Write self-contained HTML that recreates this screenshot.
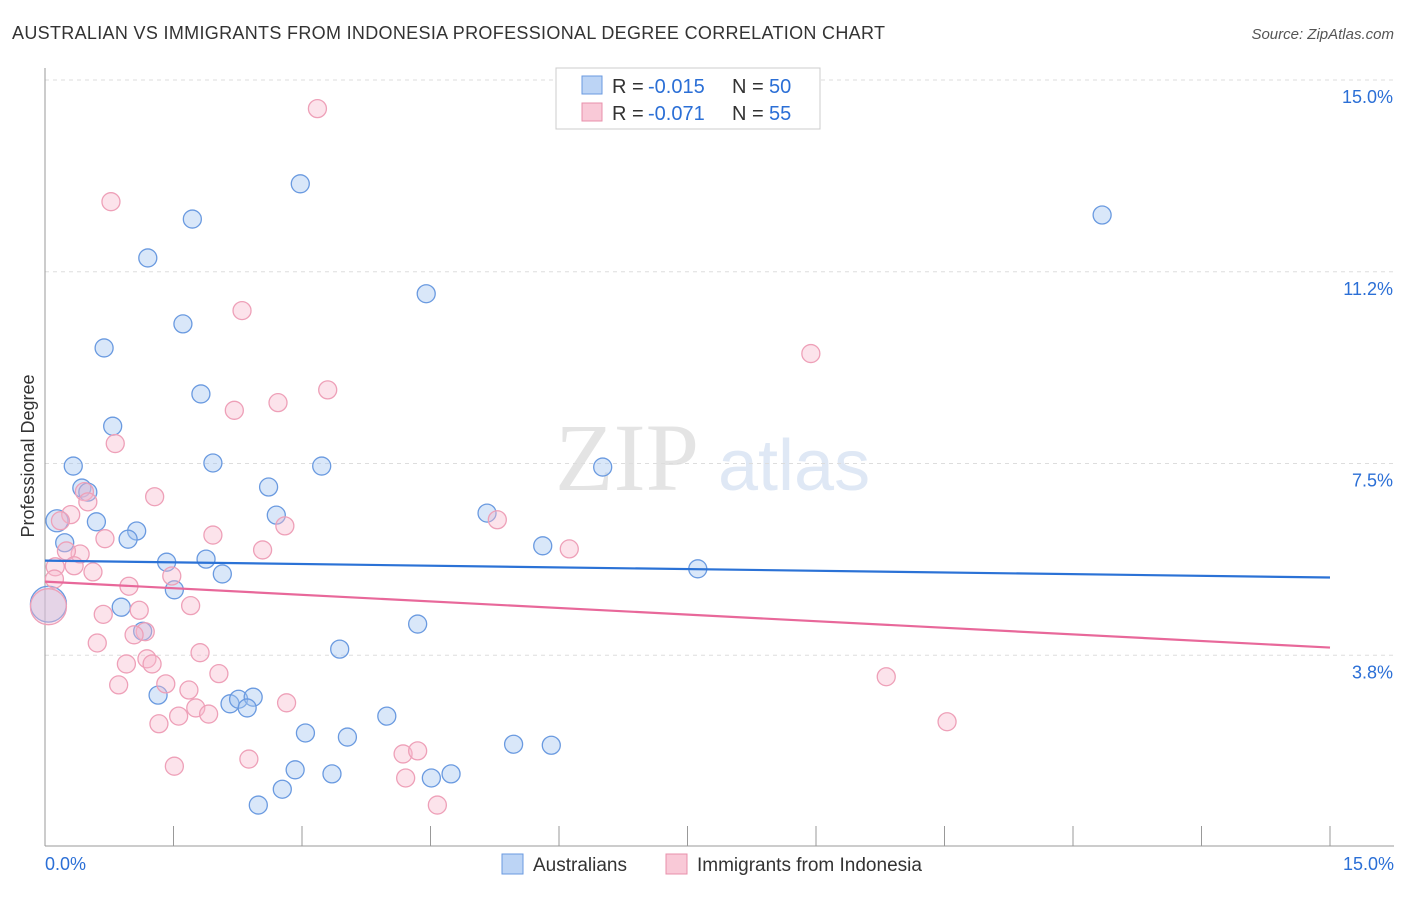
<!DOCTYPE html>
<html><head><meta charset="utf-8"><style>
body{margin:0;background:#fff;width:1406px;height:892px;overflow:hidden;font-family:"Liberation Sans",sans-serif}
</style></head><body>
<svg id="c" width="1406" height="892" xmlns="http://www.w3.org/2000/svg">
<text x="12" y="39" font-size="18" fill="#333" textLength="873">AUSTRALIAN VS IMMIGRANTS FROM INDONESIA PROFESSIONAL DEGREE CORRELATION CHART</text>
<text x="1394" y="39" font-size="15" fill="#555" font-style="italic" text-anchor="end">Source: ZipAtlas.com</text>
<text x="555" y="490" font-size="96" fill="#e4e4e4" font-family="Liberation Serif">ZIP</text>
<text x="718" y="490" font-size="72" fill="#dfe8f5">atlas</text>
<text transform="translate(34,456) rotate(-90)" font-size="18" fill="#333" text-anchor="middle">Professional Degree</text>
<g id="grid"></g><g id="pts"></g><g id="lines"></g>
<g>
<rect x="556" y="68" width="264" height="61" fill="#fff" stroke="#ccc"/>
<rect x="582" y="76" width="20" height="18" fill="#bcd4f5" stroke="#6a9ae0"/>
<rect x="582" y="103" width="20" height="18" fill="#f9c9d7" stroke="#e890ab"/>
<text x="612" y="93" font-size="20" fill="#333">R =</text>
<text x="648" y="93" font-size="20" fill="#2b6fd6">-0.015</text>
<text x="732" y="93" font-size="20" fill="#333">N =</text>
<text x="769" y="93" font-size="20" fill="#2b6fd6">50</text>
<text x="612" y="120" font-size="20" fill="#333">R =</text>
<text x="648" y="120" font-size="20" fill="#2b6fd6">-0.071</text>
<text x="732" y="120" font-size="20" fill="#333">N =</text>
<text x="769" y="120" font-size="20" fill="#2b6fd6">55</text>
</g>
<g>
<rect x="502" y="854" width="21" height="20" fill="#bcd4f5" stroke="#6a9ae0"/>
<text x="533" y="871" font-size="19" fill="#333">Australians</text>
<rect x="666" y="854" width="21" height="20" fill="#f9c9d7" stroke="#e890ab"/>
<text x="697" y="871" font-size="19" fill="#333">Immigrants from Indonesia</text>
</g>
</svg>
<script>
const yTicks=[15,11.25,7.5,3.75];
const yTickLabels=["15.0%","11.2%","7.5%","3.8%"];
const xEndLabels=["0.0%","15.0%"];
const blueX=[2.98,1.72,1.2,4.45,1.61,0.69,1.82,0.79,0.33,1.96,3.23,6.51,0.43,0.5,2.61,0.14,0.6,2.7,5.16,1.07,0.97,0.23,5.81,1.42,1.88,2.07,7.62,1.51,0.89,0.04,4.35,1.14,3.44,1.32,2.16,2.26,2.43,2.36,3.99,3.04,3.53,5.47,5.91,2.92,3.35,4.51,4.74,2.77,2.49,12.34];
const blueY=[12.97,12.28,11.52,10.82,10.23,9.76,8.86,8.23,7.45,7.51,7.45,7.43,7.02,6.94,7.04,6.38,6.36,6.49,6.53,6.18,6.02,5.95,5.89,5.57,5.63,5.34,5.44,5.03,4.69,4.75,4.36,4.22,3.87,2.97,2.8,2.89,2.93,2.72,2.56,2.23,2.15,2.01,1.99,1.51,1.43,1.35,1.43,1.13,0.82,12.36];
const blueR=[9,9,9,9,9,9,9,9,9,9,9,9,9,9,9,11,9,9,9,9,9,9,9,9,9,9,9,9,9,18,9,9,9,9,9,9,9,9,9,9,9,9,9,9,9,9,9,9,9,9];
const pinkX=[3.18,0.77,2.3,8.94,3.3,2.72,2.21,0.82,1.28,0.46,0.5,0.3,0.18,5.28,2.8,1.96,2.54,6.12,0.7,0.41,0.25,0.12,0.34,0.56,1.48,0.11,0.98,0.04,1.7,0.68,1.1,1.17,1.81,0.61,2.03,1.19,1.25,0.95,1.41,9.82,1.68,0.86,1.76,1.91,1.56,1.33,2.82,10.53,2.38,1.51,4.18,4.35,4.21,4.58,1.04];
const pinkY=[14.44,12.62,10.49,9.65,8.94,8.69,8.54,7.89,6.85,6.95,6.75,6.5,6.38,6.4,6.28,6.1,5.81,5.83,6.03,5.73,5.79,5.48,5.5,5.38,5.3,5.24,5.1,4.7,4.72,4.55,4.63,4.21,3.8,3.99,3.39,3.68,3.58,3.58,3.19,3.33,3.07,3.17,2.72,2.6,2.56,2.41,2.82,2.45,1.72,1.58,1.82,1.88,1.35,0.82,4.15];
const pinkR=[9,9,9,9,9,9,9,9,9,9,9,9,9,9,9,9,9,9,9,9,9,9,9,9,9,9,9,18,9,9,9,9,9,9,9,9,9,9,9,9,9,9,9,9,9,9,9,9,9,9,9,9,9,9,9];
const blueTrend=[5.6,5.27];
const pinkTrend=[5.19,3.9];
const NS="http://www.w3.org/2000/svg";
const xs=v=>45+v*(1285/15);
const ys=v=>847-v*(767/15);
function mk(t,a,p){const e=document.createElementNS(NS,t);for(const k in a)e.setAttribute(k,a[k]);p.appendChild(e);return e;}
const grid=document.getElementById('grid');
yTicks.forEach((v,i)=>{
 const l=mk('line',{x1:45,x2:1394,y1:ys(v),y2:ys(v),stroke:'#ddd','stroke-dasharray':'4,4'},grid);
 
 
 const t=mk('text',{x:1393,y:ys(v)+23,'font-size':18,fill:'#2b6fd6','text-anchor':'end'},grid);
 t.textContent=yTickLabels[i];
 
 
});
const ax=mk('line',{x1:45,x2:1394,y1:846,y2:846,stroke:'#999'},grid);


const ay=mk('line',{x1:45,x2:45,y1:68,y2:846,stroke:'#999'},grid);


for(let i=0;i<=10;i++){
 const tk=mk('line',{x1:xs(i*1.5),x2:xs(i*1.5),y1:826,y2:846,stroke:'#999'},grid);
 
 
}
[[0,'start',45],[1,'end',1394]].forEach(([i,a,x])=>{
 const t=mk('text',{x:x,y:870,'font-size':18,fill:'#2b6fd6','text-anchor':a},grid);
 t.textContent=xEndLabels[i];
 
 
});
const pts=document.getElementById('pts');
blueX.forEach((x,i)=>{
 const c=mk('circle',{cx:xs(x),cy:ys(blueY[i]),r:blueR[i],fill:'rgba(160,195,240,0.4)',stroke:'#6a9ae0','stroke-width':1.3},pts);
 
 
});
pinkX.forEach((x,i)=>{
 const c=mk('circle',{cx:xs(x),cy:ys(pinkY[i]),r:pinkR[i],fill:'rgba(248,185,205,0.4)',stroke:'#eea0b8','stroke-width':1.3},pts);
 
 
});
const lines=document.getElementById('lines');
const bl=mk('line',{x1:xs(0),x2:xs(15),y1:ys(blueTrend[0]),y2:ys(blueTrend[1]),stroke:'#2b72d6','stroke-width':2.2},lines);


const pl=mk('line',{x1:xs(0),x2:xs(15),y1:ys(pinkTrend[0]),y2:ys(pinkTrend[1]),stroke:'#e8689a','stroke-width':2.2},lines);


</script>
</body></html>
